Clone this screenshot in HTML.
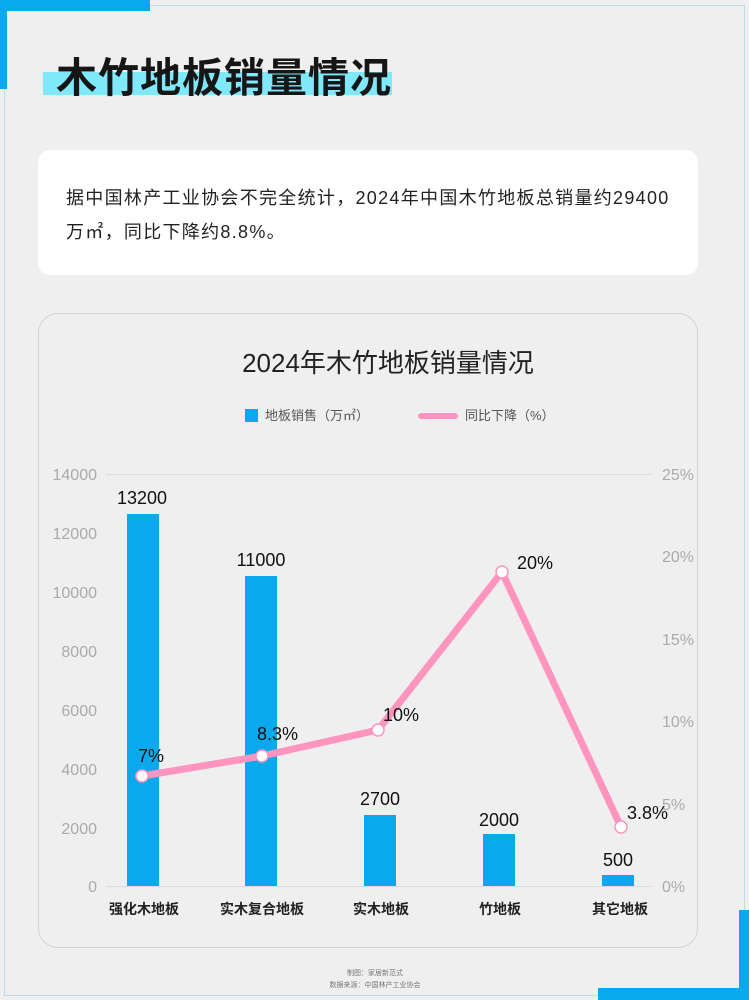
<!DOCTYPE html>
<html><head><meta charset="utf-8"><style>
body{margin:0;width:749px;height:1000px;background:#efefef;position:relative;overflow:hidden;font-family:"Liberation Sans","Noto Sans CJK SC",sans-serif}
.a{position:absolute}
</style></head><body>
<div class="a" style="left:4px;top:5px;width:739px;height:989px;border:1px solid #b9dcef"></div>
<div class="a" style="left:0;top:0;width:150px;height:11px;background:#0aa8ec"></div>
<div class="a" style="left:0;top:0;width:7px;height:89px;background:#0aa8ec"></div>
<div class="a" style="left:739px;top:910px;width:10px;height:90px;background:#0aa8ec"></div>
<div class="a" style="left:598px;top:988px;width:151px;height:12px;background:#0aa8ec"></div>
<div class="a" style="left:43px;top:72px;width:349px;height:23px;background:#7fe8fb"></div>
<div class="a" style="left:56px;top:44px;font-size:41px;font-weight:bold;color:#161616;letter-spacing:1px;font-family:'Noto Sans CJK SC',sans-serif">木竹地板销量情况</div>
<div class="a" style="left:38px;top:150px;width:660px;height:125px;background:#fff;border-radius:12px"></div>
<div class="a" style="left:66px;top:181px;width:640px;white-space:nowrap;font-size:18px;line-height:34px;color:#222;letter-spacing:1.3px">据中国林产工业协会不完全统计，2024年中国木竹地板总销量约29400<br>万㎡，同比下降约8.8%。</div>
<div class="a" style="left:38px;top:313px;width:658px;height:633px;border:1px solid #d4d4d4;border-radius:20px"></div>
<div class="a" style="left:38px;top:343px;width:700px;text-align:center;font-size:26px;color:#222">2024年木竹地板销量情况</div>
<svg class="a" style="left:0;top:0" width="749" height="1000">
<rect x="245" y="409" width="13" height="13" fill="#0aa8ec"/>
<text x="265" y="420" font-size="13" fill="#555">地板销售（万㎡）</text>
<line x1="421" y1="416" x2="455" y2="416" stroke="#ff94bf" stroke-width="6" stroke-linecap="round"/>
<text x="465" y="420" font-size="13" fill="#555">同比下降（%）</text>
<g stroke="#dcdcdc" stroke-width="1">
<line x1="106" y1="474.5" x2="652" y2="474.5"/>
<line x1="106" y1="886.5" x2="652" y2="886.5"/>
</g>
<g font-size="16" fill="#aaa" text-anchor="end">
<text x="97" y="480">14000</text><text x="97" y="539">12000</text><text x="97" y="598">10000</text>
<text x="97" y="657">8000</text><text x="97" y="716">6000</text><text x="97" y="775">4000</text>
<text x="97" y="834">2000</text><text x="97" y="892">0</text>
</g>
<g font-size="16" fill="#aaa">
<text x="662" y="480">25%</text><text x="662" y="562">20%</text><text x="662" y="645">15%</text>
<text x="662" y="727">10%</text><text x="662" y="810">5%</text><text x="662" y="892">0%</text>
</g>
<g fill="#0aa8ec">
<rect x="127" y="514" width="32" height="372"/>
<rect x="245" y="576" width="32" height="310"/>
<rect x="364" y="815" width="32" height="71"/>
<rect x="483" y="834" width="32" height="52"/>
<rect x="602" y="875" width="32" height="11"/>
</g>
<g font-size="18" fill="#111" text-anchor="middle">
<text x="142" y="504">13200</text><text x="261" y="566">11000</text><text x="380" y="805">2700</text>
<text x="499" y="826">2000</text><text x="618" y="866">500</text>
</g>
<polyline points="142,776 262,756 378,730 502,572 621,827" fill="none" stroke="#ff94bf" stroke-width="7" stroke-linejoin="round"/>
<g fill="#fff" stroke="#ff94bf" stroke-width="1.5">
<circle cx="142" cy="776" r="6"/><circle cx="262" cy="756" r="6"/><circle cx="378" cy="730" r="6"/><circle cx="502" cy="572" r="6"/><circle cx="621" cy="827" r="6"/>
</g>
<g font-size="18" fill="#111">
<text x="138" y="762">7%</text><text x="257" y="740">8.3%</text><text x="383" y="721">10%</text>
<text x="517" y="569">20%</text><text x="627" y="819">3.8%</text>
</g>
<g font-size="14" font-weight="bold" fill="#222" text-anchor="middle">
<text x="144" y="914">强化木地板</text><text x="262" y="914">实木复合地板</text><text x="381" y="914">实木地板</text>
<text x="500" y="914">竹地板</text><text x="620" y="914">其它地板</text>
</g>
<g font-size="7" fill="#777" text-anchor="middle">
<text x="375" y="975">制图：家居新范式</text><text x="375" y="987">数据来源：中国林产工业协会</text>
</g>
</svg>
</body></html>
